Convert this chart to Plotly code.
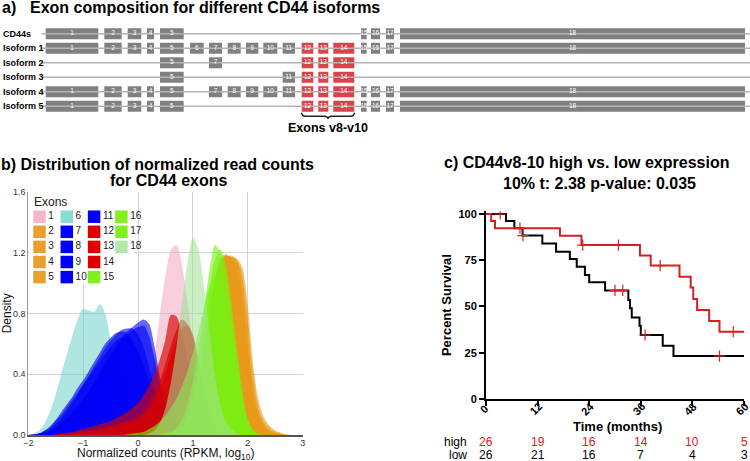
import plotly.graph_objects as go

W, H = 750, 461
FONT = "Liberation Sans"

# ---------------- Panel a: exon structure ----------------
ROWS = ["CD44s", "Isoform 1", "Isoform 2", "Isoform 3", "Isoform 4", "Isoform 5"]
EXON_IDS = [1, 2, 3, 4, 5, 6, 7, 8, 9, 10, 11, 12, 13, 14, 15, 16, 17, 18]
EXON_START = [45.7, 104.3, 127.7, 147.0, 160.0, 190.0, 209.0, 227.7, 246.0, 263.3,
              282.7, 301.7, 318.3, 333.3, 361.0, 371.0, 386.0, 400.0]
EXON_END = [98.3, 121.7, 141.3, 154.0, 183.7, 203.7, 222.0, 240.7, 258.3, 277.3,
            295.0, 313.3, 328.3, 354.3, 366.7, 380.0, 394.0, 745.0]
VARIANT_EXONS = [12, 13, 14]
CD44S_EXONS = [1, 2, 3, 4, 5, 15, 16, 17, 18]
ISO1_EXONS = [1, 2, 3, 4, 5, 6, 7, 8, 9, 10, 11, 12, 13, 14, 15, 16, 17, 18]
ISO2_EXONS = [5, 7, 12, 13, 14]
ISO3_EXONS = [5, 11, 12, 13, 14]
ISO4_EXONS = [1, 2, 3, 4, 5, 7, 8, 9, 10, 11, 12, 13, 14, 15, 16, 17, 18]
ISO5_EXONS = [1, 2, 3, 4, 5, 12, 13, 14, 15, 16, 17, 18]
GENE_START, GENE_END = 41.5, 750.0

# ---------------- Panel b: densities ----------------
X_GRID = [-2.0, -1.9, -1.8, -1.7, -1.6, -1.5, -1.4, -1.3, -1.2, -1.1,
          -1.0, -0.9, -0.8, -0.7, -0.6, -0.5, -0.4, -0.3, -0.2, -0.1,
          0.0, 0.1, 0.2, 0.3, 0.4, 0.5, 0.6, 0.7, 0.8, 0.9,
          1.0, 1.1, 1.2, 1.3, 1.4, 1.5, 1.6, 1.7, 1.8, 1.9,
          2.0, 2.1, 2.2, 2.3, 2.4, 2.5, 2.6, 2.7, 2.8, 2.9,
          3.0]
D1 = [0, 0, 0, 0, 0, 0, 0, 0, 0, 0,
      0, 0, 0, 0, 0, 0, 0, 0.01, 0.02, 0.04,
      0.08, 0.16, 0.30, 0.52, 0.80, 1.05, 1.22, 1.25, 1.12, 0.88,
      0.60, 0.36, 0.19, 0.09, 0.04, 0.02, 0.01, 0, 0, 0,
      0, 0, 0, 0, 0, 0, 0, 0, 0, 0,
      0]
D2 = [0, 0, 0, 0, 0, 0, 0, 0, 0, 0,
      0, 0, 0, 0, 0, 0, 0, 0, 0, 0,
      0, 0, 0, 0, 0.005, 0.01, 0.02, 0.04, 0.07, 0.11,
      0.17, 0.27, 0.45, 0.72, 0.98, 1.14, 1.18, 1.17, 1.16, 1.10,
      0.85, 0.45, 0.22, 0.11, 0.06, 0.03, 0.015, 0.005, 0, 0,
      0]
D3 = [0, 0, 0, 0, 0, 0, 0, 0, 0, 0,
      0, 0, 0, 0, 0, 0, 0, 0, 0, 0,
      0, 0, 0, 0, 0.005, 0.01, 0.02, 0.04, 0.07, 0.12,
      0.19, 0.30, 0.50, 0.78, 1.02, 1.15, 1.18, 1.17, 1.14, 0.98,
      0.62, 0.30, 0.14, 0.06, 0.03, 0.01, 0, 0, 0, 0,
      0]
D4 = [0, 0, 0, 0, 0, 0, 0, 0, 0, 0,
      0, 0, 0, 0, 0, 0, 0, 0, 0, 0,
      0, 0, 0, 0, 0.005, 0.01, 0.02, 0.04, 0.06, 0.10,
      0.16, 0.26, 0.44, 0.70, 0.95, 1.10, 1.17, 1.18, 1.15, 1.05,
      0.75, 0.38, 0.17, 0.08, 0.04, 0.02, 0.01, 0, 0, 0,
      0]
D5 = [0, 0, 0, 0, 0, 0, 0, 0, 0, 0,
      0, 0, 0, 0, 0, 0, 0, 0, 0, 0,
      0, 0, 0, 0.005, 0.01, 0.02, 0.03, 0.05, 0.08, 0.13,
      0.21, 0.34, 0.55, 0.80, 1.02, 1.16, 1.19, 1.16, 1.08, 0.90,
      0.55, 0.26, 0.11, 0.05, 0.02, 0.01, 0, 0, 0, 0,
      0]
D6 = [0, 0.01, 0.03, 0.08, 0.16, 0.27, 0.40, 0.53, 0.65, 0.76,
      0.83, 0.82, 0.81, 0.86, 0.80, 0.62, 0.45, 0.33, 0.25, 0.19,
      0.14, 0.10, 0.07, 0.05, 0.03, 0.02, 0.01, 0, 0, 0,
      0, 0, 0, 0, 0, 0, 0, 0, 0, 0,
      0, 0, 0, 0, 0, 0, 0, 0, 0, 0,
      0]
D7 = [0, 0.005, 0.01, 0.03, 0.06, 0.10, 0.15, 0.20, 0.25, 0.31,
      0.36, 0.42, 0.48, 0.54, 0.60, 0.64, 0.67, 0.68, 0.67, 0.62,
      0.54, 0.43, 0.31, 0.20, 0.12, 0.07, 0.04, 0.02, 0.01, 0,
      0, 0, 0, 0, 0, 0, 0, 0, 0, 0,
      0, 0, 0, 0, 0, 0, 0, 0, 0, 0,
      0]
D8 = [0, 0, 0.01, 0.02, 0.04, 0.07, 0.11, 0.16, 0.21, 0.27,
      0.33, 0.39, 0.45, 0.51, 0.57, 0.62, 0.66, 0.69, 0.70, 0.70,
      0.66, 0.58, 0.45, 0.31, 0.19, 0.10, 0.05, 0.02, 0.01, 0,
      0, 0, 0, 0, 0, 0, 0, 0, 0, 0,
      0, 0, 0, 0, 0, 0, 0, 0, 0, 0,
      0]
D9 = [0, 0, 0.01, 0.02, 0.03, 0.05, 0.08, 0.11, 0.15, 0.19,
      0.24, 0.29, 0.35, 0.41, 0.47, 0.53, 0.59, 0.64, 0.68, 0.71,
      0.74, 0.76, 0.73, 0.58, 0.38, 0.22, 0.11, 0.05, 0.02, 0.01,
      0, 0, 0, 0, 0, 0, 0, 0, 0, 0,
      0, 0, 0, 0, 0, 0, 0, 0, 0, 0,
      0]
D10 = [0, 0, 0, 0.01, 0.02, 0.04, 0.07, 0.10, 0.14, 0.18,
       0.23, 0.28, 0.34, 0.40, 0.46, 0.52, 0.57, 0.62, 0.66, 0.69,
       0.71, 0.72, 0.65, 0.50, 0.33, 0.19, 0.10, 0.05, 0.02, 0.01,
       0, 0, 0, 0, 0, 0, 0, 0, 0, 0,
       0, 0, 0, 0, 0, 0, 0, 0, 0, 0,
       0]
D11 = [0, 0.005, 0.01, 0.03, 0.05, 0.09, 0.13, 0.18, 0.23, 0.28,
       0.33, 0.38, 0.43, 0.48, 0.53, 0.58, 0.62, 0.64, 0.64, 0.61,
       0.55, 0.46, 0.36, 0.26, 0.17, 0.10, 0.05, 0.02, 0.01, 0,
       0, 0, 0, 0, 0, 0, 0, 0, 0, 0,
       0, 0, 0, 0, 0, 0, 0, 0, 0, 0,
       0]
D12 = [0, 0, 0, 0, 0, 0.005, 0.01, 0.015, 0.02, 0.03,
       0.04, 0.05, 0.06, 0.07, 0.08, 0.09, 0.11, 0.13, 0.15, 0.18,
       0.21, 0.26, 0.32, 0.40, 0.50, 0.63, 0.79, 0.78, 0.66, 0.50,
       0.34, 0.20, 0.10, 0.04, 0.015, 0.005, 0, 0, 0, 0,
       0, 0, 0, 0, 0, 0, 0, 0, 0, 0,
       0]
D13 = [0, 0, 0, 0, 0, 0, 0.005, 0.01, 0.015, 0.02,
       0.025, 0.03, 0.035, 0.04, 0.05, 0.06, 0.07, 0.08, 0.09, 0.10,
       0.12, 0.15, 0.20, 0.27, 0.36, 0.47, 0.59, 0.69, 0.76, 0.73,
       0.64, 0.44, 0.24, 0.11, 0.04, 0.015, 0.005, 0, 0, 0,
       0, 0, 0, 0, 0, 0, 0, 0, 0, 0,
       0]
D14 = [0, 0, 0, 0, 0, 0, 0, 0, 0.005, 0.01,
       0.015, 0.02, 0.025, 0.03, 0.035, 0.04, 0.05, 0.06, 0.07, 0.08,
       0.10, 0.13, 0.17, 0.23, 0.31, 0.41, 0.52, 0.62, 0.70, 0.72,
       0.66, 0.50, 0.30, 0.15, 0.06, 0.02, 0.01, 0, 0, 0,
       0, 0, 0, 0, 0, 0, 0, 0, 0, 0,
       0]
D15 = [0, 0, 0, 0, 0, 0, 0, 0, 0, 0,
       0, 0, 0, 0, 0, 0, 0, 0, 0.005, 0.01,
       0.015, 0.02, 0.04, 0.06, 0.09, 0.13, 0.18, 0.24, 0.32, 0.42,
       0.54, 0.68, 0.84, 0.98, 1.05, 1.00, 0.86, 0.66, 0.44, 0.24,
       0.10, 0.03, 0.01, 0, 0, 0, 0, 0, 0, 0,
       0]
D16 = [0, 0, 0, 0, 0, 0, 0, 0, 0, 0,
       0, 0, 0, 0, 0, 0, 0, 0, 0, 0,
       0, 0, 0, 0, 0.005, 0.01, 0.02, 0.05, 0.10, 0.20,
       0.35, 0.56, 0.82, 1.08, 1.25, 1.20, 1.05, 0.80, 0.52, 0.26,
       0.08, 0.02, 0, 0, 0, 0, 0, 0, 0, 0,
       0]
D17 = [0, 0, 0, 0, 0, 0, 0, 0, 0, 0,
       0, 0, 0, 0, 0, 0, 0, 0, 0, 0,
       0, 0, 0, 0, 0.005, 0.01, 0.02, 0.03, 0.07, 0.14,
       0.26, 0.44, 0.68, 0.95, 1.15, 1.22, 1.12, 0.88, 0.58, 0.30,
       0.10, 0.03, 0, 0, 0, 0, 0, 0, 0, 0,
       0]
D18 = [0, 0, 0, 0, 0, 0, 0, 0, 0, 0,
       0, 0, 0, 0, 0, 0, 0, 0, 0, 0,
       0, 0, 0.01, 0.03, 0.08, 0.18, 0.35, 0.58, 0.86, 1.13,
       1.30, 1.22, 0.98, 0.68, 0.40, 0.20, 0.09, 0.04, 0.01, 0,
       0, 0, 0, 0, 0, 0, 0, 0, 0, 0,
       0]
DENSITIES = [D1, D2, D3, D4, D5, D6, D7, D8, D9, D10, D11, D12, D13, D14, D15, D16, D17, D18]
EXON_GROUP = ["pink", "orange", "orange", "orange", "orange", "turq", "blue", "blue", "blue",
              "blue", "blue", "red", "red", "red", "green", "green", "green", "pale"]

# ---------------- Panel c: survival ----------------
HIGH_TIMES = [1.2, 2.1, 17.2, 22.2, 35.8, 38.3, 45.0, 47.6, 48.2, 49.1, 51.9, 54.3]
HIGH_SURV = [96.2, 92.3, 88.2, 83.2, 77.5, 72.1, 66.1, 60.2, 54.1, 48.1, 42.2, 36.4]
HIGH_CENSOR = [7.9, 22.5, 30.8, 40.5, 57.5]
LOW_TIMES = [4.65, 6.6, 8.5, 13.1, 16.3, 19.5, 21.1, 23.0, 24.0, 27.7, 33.1, 33.5, 33.9,
             35.7, 36.0, 41.1, 43.6]
LOW_SURV = [96.2, 92.3, 88.3, 84.1, 79.6, 75.7, 71.5, 67.0, 63.1, 58.7, 53.5, 49.0, 44.0,
            39.6, 34.6, 28.8, 23.2]
LOW_CENSOR = [3.3, 8.6, 30.0, 31.8, 37.0, 54.3]
TIME_TICKS = [0, 12, 24, 36, 48, 60]
HIGH_AT_RISK = [26, 19, 16, 14, 10, 5]
LOW_AT_RISK = [26, 21, 16, 7, 4, 3]
SURV_TICKS = [0, 25, 50, 75, 100]

# ---------------- styling ----------------
GREY = "#808080"
VRED = "#d9434a"
FILLS = {"pink": "rgba(240,165,185,0.55)", "orange": "rgba(232,150,20,0.6)",
         "turq": "rgba(80,200,190,0.45)", "blue": "rgba(0,0,245,0.6)",
         "red": "rgba(215,0,0,0.65)", "green": "rgba(120,240,20,0.62)",
         "pale": "rgba(160,225,150,0.55)"}
SWATCH = {"pink": "#f4b8c8", "orange": "#e9a030", "turq": "#88dcd2", "blue": "#0000ff",
          "red": "#dd0000", "green": "#80f020", "pale": "#b4e8a8"}
KM_RED = "#d42020"


def px_x(p):
    return p / W


def px_y(p):
    return 1 - p / H


fig = go.Figure()

# ---- panel a
iso_lists = [CD44S_EXONS, ISO1_EXONS, ISO2_EXONS, ISO3_EXONS, ISO4_EXONS, ISO5_EXONS]
lx, ly = [], []
for ri, _ in enumerate(ROWS):
    lx += [GENE_START, GENE_END, None]
    ly += [ri, ri, None]
fig.add_trace(go.Scatter(x=lx, y=ly, mode="lines", line=dict(color="#b4b4b4", width=1.5),
                         xaxis="x3", yaxis="y3", showlegend=False, hoverinfo="skip"))
for is_var, color in [(False, GREY), (True, VRED)]:
    bx, by, bb = [], [], []
    for ri, exons in enumerate(iso_lists):
        for e in exons:
            if (e in VARIANT_EXONS) != is_var:
                continue
            k = EXON_IDS.index(e)
            bb.append(EXON_START[k])
            bx.append(EXON_END[k] - EXON_START[k])
            by.append(ri)
    fig.add_trace(go.Bar(orientation="h", x=bx, y=by, base=bb, width=0.76,
                         marker=dict(color=color, line=dict(width=0)),
                         xaxis="x3", yaxis="y3", showlegend=False, hoverinfo="skip"))
txx, txy, txt = [], [], []
for ri, exons in enumerate(iso_lists):
    for e in exons:
        k = EXON_IDS.index(e)
        txx.append((EXON_START[k] + EXON_END[k]) / 2)
        txy.append(ri)
        txt.append(str(e))
fig.add_trace(go.Scatter(x=txx, y=txy, mode="text", text=txt,
                         textfont=dict(size=6.5, color="white", family=FONT),
                         xaxis="x3", yaxis="y3", showlegend=False, hoverinfo="skip"))

xL = EXON_START[EXON_IDS.index(VARIANT_EXONS[0])]
xR = EXON_END[EXON_IDS.index(VARIANT_EXONS[-1])]
xm = (xL + xR) / 2
yt, ym, ytip = 5.44, 5.68, 5.88
brace = (f"M {xL},{yt} Q {xL},{ym} {xL+4},{ym} L {xm-4},{ym} Q {xm},{ym} {xm},{ytip} "
         f"Q {xm},{ym} {xm+4},{ym} L {xR-4},{ym} Q {xR},{ym} {xR},{yt}")

# ---- panel b
for k, dens in enumerate(DENSITIES):
    fig.add_trace(go.Scatter(x=X_GRID, y=dens, mode="lines",
                             line=dict(width=0, shape="spline", smoothing=0.8),
                             fill="tozeroy", fillcolor=FILLS[EXON_GROUP[k]],
                             xaxis="x", yaxis="y", showlegend=False, hoverinfo="skip"))

# legend built as a grid of swatches in an overlay axis
lgx, lgy, lgc, lgt = [], [], [], []
for k, e in enumerate(EXON_IDS):
    col, row = k // 5, k % 5
    lgx.append(39.5 + col * 27.3)
    lgy.append(216.7 + row * 15.1)
    lgc.append(SWATCH[EXON_GROUP[k]])
    lgt.append(str(e))
fig.add_trace(go.Scatter(x=lgx, y=lgy, mode="markers+text", text=lgt,
                         textposition="middle right",
                         textfont=dict(size=10, color="#222", family=FONT),
                         marker=dict(symbol="square", size=12.5, color=lgc, line=dict(width=0)),
                         xaxis="x4", yaxis="y4", showlegend=False, hoverinfo="skip"))


# ---- panel c
def steps(times, surv):
    return [0] + times + [60], [100] + surv + [surv[-1]]


def surv_at(t, times, surv):
    s = 100
    for ti, v in zip(times, surv):
        if ti <= t:
            s = v
    return s


hx, hy = steps(HIGH_TIMES, HIGH_SURV)
lx2, ly2 = steps(LOW_TIMES, LOW_SURV)
fig.add_trace(go.Scatter(x=lx2, y=ly2, mode="lines", line=dict(color="black", width=2, shape="hv"),
                         xaxis="x2", yaxis="y2", showlegend=False))
fig.add_trace(go.Scatter(x=hx, y=hy, mode="lines", line=dict(color=KM_RED, width=2, shape="hv"),
                         xaxis="x2", yaxis="y2", showlegend=False))
cx = LOW_CENSOR + HIGH_CENSOR
cy = [surv_at(t, LOW_TIMES, LOW_SURV) for t in LOW_CENSOR] + \
     [surv_at(t, HIGH_TIMES, HIGH_SURV) for t in HIGH_CENSOR]
fig.add_trace(go.Scatter(x=cx, y=cy, mode="markers",
                         marker=dict(symbol="cross-thin", size=8, line=dict(color=KM_RED, width=1.2)),
                         xaxis="x2", yaxis="y2", showlegend=False))

# ---------------- layout ----------------
ann = []
TB = dict(family=FONT, size=16, color="black")
ann.append(dict(text="<b>a)</b>", x=px_x(0), y=px_y(7.5), xanchor="left", yanchor="middle", font=TB))
ann.append(dict(text="<b>Exon composition for different CD44 isoforms</b>", x=px_x(28),
                y=px_y(7.5), xanchor="left", yanchor="middle", font=TB))
ann.append(dict(text="<b>b) Distribution of normalized read counts</b>", x=px_x(-1),
                y=px_y(164.5), xanchor="left", yanchor="middle", font=TB))
ann.append(dict(text="<b>for CD44 exons</b>", x=px_x(168), y=px_y(180.5), xanchor="center",
                yanchor="middle", font=TB))
ann.append(dict(text="<b>c) CD44v8-10 high vs. low expression</b>", x=px_x(442), y=px_y(163),
                xanchor="left", yanchor="middle", font=TB))
ann.append(dict(text="<b>10% t: 2.38 p-value: 0.035</b>", x=px_x(599), y=px_y(183),
                xanchor="center", yanchor="middle", font=TB))
ann.append(dict(text="<b>Exons v8-v10</b>", x=xm, y=6.5, xref="x3", yref="y3",
                xanchor="center", yanchor="middle", font=dict(family=FONT, size=12.5, color="black")))
ann.append(dict(text="Exons", x=px_x(32), y=px_y(201.7), xanchor="left", yanchor="middle",
                font=dict(family=FONT, size=12, color="#222")))
ann.append(dict(text="Normalized counts (RPKM, log<sub>10</sub>)", x=px_x(165.5), y=px_y(454),
                xanchor="center", yanchor="middle", font=dict(family=FONT, size=12, color="#111")))
ann.append(dict(text="<b>Time (months)</b>", x=px_x(617.5), y=px_y(426.5),
                xanchor="center", yanchor="middle", font=dict(family=FONT, size=13, color="black")))
for t in TIME_TICKS:
    ann.append(dict(text=f"<b>{t}</b>", x=t, xref="x2", y=px_y(409), yanchor="middle",
                    xanchor="center", textangle=-45, showarrow=False, xshift=-2,
                    font=dict(family=FONT, size=11, color="black")))
RF = dict(family=FONT, size=12)
ann.append(dict(text="high", x=px_x(469), y=px_y(441.5), xanchor="right", yanchor="middle",
                font=dict(color="black", **RF)))
ann.append(dict(text="low", x=px_x(469), y=px_y(455), xanchor="right", yanchor="middle",
                font=dict(color="black", **RF)))
for t, h, l in zip(TIME_TICKS, HIGH_AT_RISK, LOW_AT_RISK):
    ann.append(dict(text=str(h), x=t, xref="x2", y=px_y(441.5), xanchor="center",
                    yanchor="middle", font=dict(color=KM_RED, **RF)))
    ann.append(dict(text=str(l), x=t, xref="x2", y=px_y(455), xanchor="center",
                    yanchor="middle", font=dict(color="black", **RF)))
for a in ann:
    a.setdefault("xref", "paper")
    a.setdefault("yref", "paper")
    a["showarrow"] = False

fig.update_layout(
    width=W, height=H, margin=dict(l=0, r=0, t=0, b=0, autoexpand=False),
    paper_bgcolor="white", plot_bgcolor="rgba(0,0,0,0)", barmode="overlay",
    font=dict(family=FONT, color="black"),
    showlegend=False,
    annotations=ann,
    shapes=[
        dict(type="path", path=brace, xref="x3", yref="y3", line=dict(color="#222", width=1.5)),
        dict(type="rect", xref="x", yref="y", x0=-1.96, x1=-0.07, y0=1.0, y1=1.6,
             fillcolor="white", line=dict(width=0), layer="between"),
    ],
    # panel b
    xaxis=dict(domain=[px_x(28.3), px_x(302.7)], range=[-2, 3], tickvals=[-2, -1, 0, 1, 2, 3],
               showgrid=True, gridcolor="#d4d4d4", gridwidth=1, zeroline=False,
               showline=True, linecolor="#555", linewidth=2, ticks="",
               tickfont=dict(size=9, color="#333"), automargin=False, ticklabelstandoff=-2,
               anchor="y", fixedrange=True),
    yaxis=dict(domain=[px_y(435), px_y(191.7)], range=[0, 1.6], tickvals=[0, 0.4, 0.8, 1.2, 1.6],
               ticktext=["0.0", "0.4", "0.8", "1.2", "1.6"],
               showgrid=True, gridcolor="#d4d4d4", gridwidth=1, zeroline=False,
               showline=True, linecolor="#999", linewidth=1, ticks="",
               tickfont=dict(size=9, color="#333"), automargin=False,
               title=dict(text="Density", standoff=0, font=dict(size=12, color="#111")),
               anchor="x", fixedrange=True),
    # panel c
    xaxis2=dict(domain=[px_x(486), px_x(744)], range=[0, 60], tickvals=TIME_TICKS,
                showticklabels=False, ticks="outside", ticklen=5, tickwidth=2, tickcolor="black",
                showline=True, linecolor="black", linewidth=2, showgrid=False, zeroline=False,
                automargin=False, anchor="y2", fixedrange=True),
    yaxis2=dict(domain=[px_y(399), px_y(211.2)], range=[0, 101.5], tickvals=SURV_TICKS,
                ticks="outside", ticklen=5, tickwidth=2, tickcolor="black",
                showline=True, linecolor="black", linewidth=2, showgrid=False, zeroline=False,
                tickfont=dict(size=11, color="black", weight="bold"), automargin=False,
                title=dict(text="<b>Percent Survival</b>", standoff=4,
                           font=dict(size=13, color="black")),
                anchor="x2", fixedrange=True),
    # panel a
    xaxis3=dict(domain=[0, 1], range=[0, W], visible=False, anchor="y3", fixedrange=True,
                automargin=False),
    yaxis3=dict(domain=[px_y(135.3), px_y(26.55)], range=[7.0, -0.5], tickvals=[0, 1, 2, 3, 4, 5],
                ticktext=[f"<b>{r}</b>" for r in ROWS], ticklabelposition="inside", ticks="",
                showgrid=False, zeroline=False, showline=False, automargin=False,
                tickfont=dict(size=9, color="black"), anchor="x3", fixedrange=True),
    # legend overlay
    xaxis4=dict(domain=[0, 1], range=[0, W], visible=False, anchor="y4", fixedrange=True,
                automargin=False),
    yaxis4=dict(domain=[0, 1], range=[H, 0], visible=False, anchor="x4", fixedrange=True,
                automargin=False),
)

fig.write_html("out.html", config={"displayModeBar": False},
               post_script="document.body.style.margin='0px';"
               "document.body.style.overflow='hidden';")
